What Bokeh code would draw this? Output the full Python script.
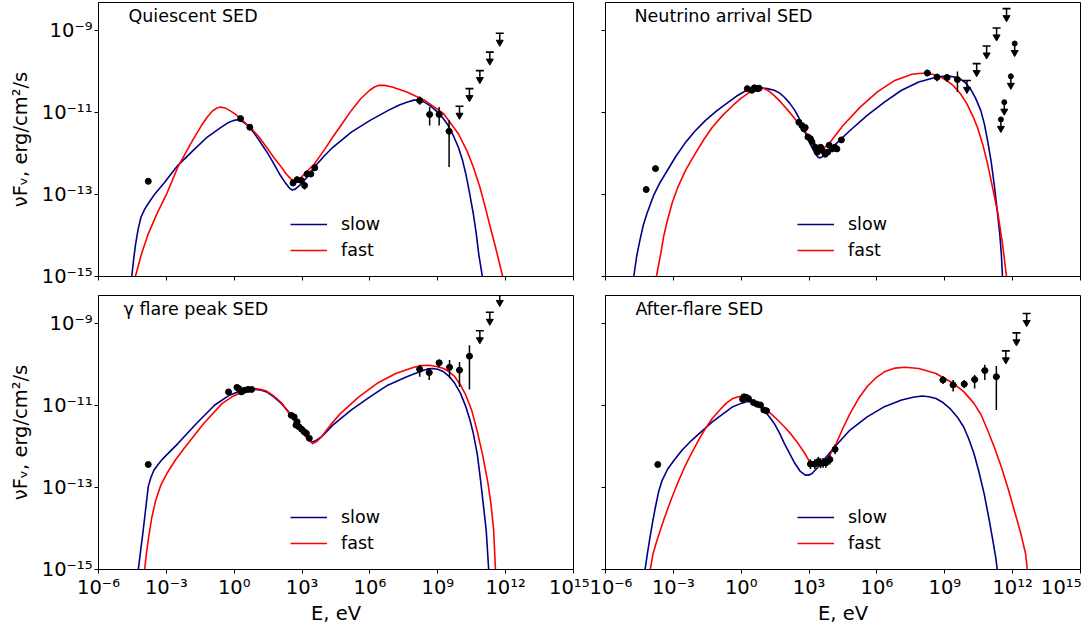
import numpy as np
from bokeh.plotting import figure
from bokeh.models import Range1d, FixedTicker, CustomJSTickFormatter, Label
from bokeh.layouts import column, row
from bokeh.embed import file_html
from bokeh.resources import INLINE

# ---------------- tick labels ----------------
x_tick_exp = [-6, -3, 0, 3, 6, 9, 12, 15]
x_tick_labels = ["10⁻⁶", "10⁻³", "10⁰", "10³", "10⁶", "10⁹", "10¹²", "10¹⁵"]
y_tick_exp = [-15, -13, -11, -9]
y_tick_labels = ["10⁻¹⁵", "10⁻¹³", "10⁻¹¹", "10⁻⁹"]

panel_titles = ["Quiescent SED", "Neutrino arrival SED", "γ flare peak SED", "After-flare SED"]
legend_labels = ["slow", "fast"]

# ---------------- data (log10 E [eV], log10 nuFnu [erg/cm2/s]) ----------------
# Quiescent
q_slow_E = [-4.53, -4.45, -4.37, -4.25, -4.12, -3.95, -3.80, -3.50, -3.10, -2.49, -1.80, -1.19, -0.60, -0.30, -0.05, 0.12, 0.35, 0.61, 0.85, 1.10, 1.45, 1.75, 2.00, 2.24, 2.45, 2.57, 2.70, 2.89, 3.05, 3.22, 3.55, 4.00, 4.36, 5.18, 5.99, 6.81, 7.30, 7.63, 7.95, 8.20, 8.44, 8.70, 8.93, 9.20, 9.42, 9.70, 9.91, 10.10, 10.24, 10.40, 10.57, 10.70, 10.81, 10.97]
q_slow_F = [-15.0, -14.60, -14.25, -13.85, -13.55, -13.35, -13.22, -12.98, -12.72, -12.29, -11.92, -11.60, -11.37, -11.26, -11.20, -11.18, -11.22, -11.32, -11.48, -11.68, -11.97, -12.25, -12.50, -12.70, -12.85, -12.89, -12.87, -12.78, -12.68, -12.58, -12.33, -12.05, -11.85, -11.48, -11.20, -10.95, -10.82, -10.75, -10.70, -10.70, -10.76, -10.85, -10.96, -11.12, -11.28, -11.58, -11.85, -12.18, -12.50, -12.95, -13.47, -13.95, -14.45, -15.0]
q_fast_E = [-4.37, -4.10, -3.80, -3.40, -2.98, -2.49, -1.84, -1.45, -1.19, -0.95, -0.75, -0.61, -0.40, -0.21, 0.05, 0.28, 0.77, 1.10, 1.43, 1.75, 2.08, 2.30, 2.50, 2.73, 2.90, 3.10, 3.55, 4.00, 4.36, 4.80, 5.18, 5.60, 5.99, 6.20, 6.40, 6.65, 6.98, 7.63, 8.44, 9.26, 9.91, 10.30, 10.57, 10.85, 11.06, 11.30, 11.55, 11.87]
q_fast_F = [-15.0, -14.45, -13.96, -13.45, -12.98, -12.33, -11.68, -11.32, -11.11, -10.96, -10.89, -10.87, -10.89, -10.95, -11.04, -11.15, -11.40, -11.60, -11.85, -12.10, -12.33, -12.50, -12.62, -12.68, -12.62, -12.50, -12.25, -11.90, -11.60, -11.25, -10.95, -10.66, -10.46, -10.38, -10.34, -10.34, -10.38, -10.50, -10.71, -11.03, -11.52, -11.95, -12.33, -12.80, -13.23, -13.75, -14.28, -15.0]
q_pt_E = [-3.80, 0.28, 0.69, 2.60, 2.78, 2.97, 3.11, 3.22, 3.39, 3.56, 8.20, 8.64, 9.06, 9.50]
q_pt_F = [-12.68, -11.15, -11.36, -12.72, -12.64, -12.66, -12.78, -12.50, -12.50, -12.35, -10.71, -11.05, -11.05, -11.46]
q_pt_lo = [0, 0, 0, 0.08, 0.08, 0.08, 0.10, 0.08, 0.08, 0.08, 0.10, 0.27, 0.27, 0.87]
q_pt_hi = [0, 0, 0, 0.08, 0.08, 0.08, 0.08, 0.08, 0.08, 0.08, 0.10, 0.18, 0.18, 0.27]
q_pt_xe = [0, 0, 0, 0.07, 0.07, 0.07, 0.07, 0.07, 0.07, 0.07, 0.15, 0.15, 0.15, 0.15]
q_ul_E = [9.96, 10.40, 10.86, 11.30, 11.74]
q_ul_F = [-10.85, -10.42, -9.98, -9.53, -9.07]

# Neutrino arrival
n_slow_E = [-4.75, -4.62, -4.48, -4.33, -4.17, -3.87, -3.60, -3.26, -2.90, -2.50, -2.05, -1.59, -1.10, -0.67, -0.20, 0.24, 0.55, 0.85, 1.15, 1.46, 1.70, 1.91, 2.15, 2.37, 2.55, 2.68, 2.83, 2.98, 3.13, 3.28, 3.38, 3.47, 3.58, 3.74, 3.95, 4.20, 4.81, 5.57, 6.33, 7.09, 7.85, 8.61, 8.95, 9.22, 9.45, 9.68, 9.90, 10.13, 10.35, 10.59, 10.75, 10.89, 11.05, 11.20, 11.32, 11.43, 11.50, 11.55]
n_slow_F = [-15.0, -14.50, -14.12, -13.75, -13.47, -13.02, -12.72, -12.41, -12.08, -11.76, -11.46, -11.20, -10.97, -10.79, -10.60, -10.46, -10.41, -10.40, -10.42, -10.46, -10.53, -10.63, -10.78, -10.95, -11.13, -11.32, -11.50, -11.68, -11.86, -12.01, -12.08, -12.11, -12.08, -12.01, -11.89, -11.76, -11.44, -11.07, -10.75, -10.46, -10.26, -10.14, -10.12, -10.12, -10.14, -10.18, -10.27, -10.42, -10.64, -10.95, -11.28, -11.68, -12.20, -12.82, -13.40, -13.96, -14.45, -15.0]
n_fast_E = [-3.75, -3.56, -3.42, -3.26, -3.05, -2.80, -2.45, -2.04, -1.65, -1.28, -0.80, -0.37, 0.00, 0.39, 0.65, 0.93, 1.20, 1.46, 1.75, 2.07, 2.40, 2.68, 2.92, 3.13, 3.35, 3.51, 3.68, 3.89, 4.15, 4.50, 5.26, 6.02, 6.79, 7.55, 7.85, 8.16, 8.45, 8.76, 9.05, 9.37, 9.70, 9.98, 10.25, 10.44, 10.68, 10.89, 11.12, 11.35, 11.55, 11.73]
n_fast_F = [-15.0, -14.45, -14.00, -13.63, -13.20, -12.82, -12.40, -12.01, -11.66, -11.36, -11.06, -10.83, -10.65, -10.50, -10.43, -10.40, -10.47, -10.59, -10.75, -10.95, -11.17, -11.36, -11.53, -11.68, -11.83, -11.89, -11.86, -11.76, -11.57, -11.32, -10.87, -10.50, -10.22, -10.07, -10.05, -10.04, -10.07, -10.12, -10.21, -10.34, -10.55, -10.79, -11.10, -11.36, -11.78, -12.25, -12.85, -13.47, -14.20, -15.0]
n_pt_E = [-4.20, -3.79, 0.27, 0.47, 0.58, 0.70, 0.79, 2.55, 2.68, 2.77, 2.83, 2.95, 3.06, 3.13, 3.28, 3.36, 3.51, 3.59, 3.71, 3.82, 3.89, 4.02, 4.14, 4.23, 4.43, 8.23, 8.66, 9.10, 9.56]
n_pt_F = [-12.88, -12.37, -10.42, -10.46, -10.40, -10.42, -10.41, -11.24, -11.32, -11.40, -11.37, -11.60, -11.64, -11.72, -11.85, -11.97, -11.85, -11.93, -12.02, -11.97, -11.80, -11.89, -11.85, -11.89, -11.67, -10.04, -10.14, -10.15, -10.20]
n_pt_lo = [0, 0, 0.03, 0.03, 0.03, 0.03, 0.03, 0.06, 0.06, 0.06, 0.06, 0.06, 0.06, 0.06, 0.06, 0.06, 0.06, 0.06, 0.06, 0.06, 0.06, 0.06, 0.06, 0.06, 0.06, 0.08, 0.10, 0.10, 0.30]
n_pt_hi = [0, 0, 0.03, 0.03, 0.03, 0.03, 0.03, 0.06, 0.06, 0.06, 0.06, 0.06, 0.06, 0.06, 0.06, 0.06, 0.06, 0.06, 0.06, 0.06, 0.06, 0.06, 0.06, 0.06, 0.06, 0.08, 0.08, 0.08, 0.20]
n_pt_xe = [0, 0, 0, 0, 0, 0, 0, 0.05, 0.05, 0.05, 0.05, 0.05, 0.05, 0.05, 0.05, 0.05, 0.05, 0.05, 0.05, 0.05, 0.05, 0.05, 0.05, 0.05, 0.05, 0.15, 0.15, 0.15, 0.15]
n_ul_E = [9.98, 10.41, 10.85, 11.29, 11.73]
n_ul_F = [-10.22, -9.81, -9.38, -8.94, -8.47]
n_ar_E = [11.48, 11.63, 11.92, 12.09]
n_ar_F = [-11.17, -10.75, -10.12, -9.32]

# gamma flare peak
g_slow_E = [-4.24, -4.14, -4.04, -3.92, -3.80, -3.68, -3.55, -3.35, -3.14, -2.49, -1.67, -0.86, -0.21, 0.15, 0.45, 0.70, 0.94, 1.20, 1.43, 1.75, 2.08, 2.35, 2.57, 2.82, 3.06, 3.25, 3.43, 3.60, 3.87, 4.36, 5.18, 6.00, 6.81, 7.63, 8.28, 8.55, 8.77, 9.00, 9.26, 9.50, 9.75, 10.00, 10.24, 10.42, 10.57, 10.75, 10.89, 11.02, 11.14, 11.25]
g_slow_F = [-15.0, -14.55, -14.12, -13.55, -12.98, -12.75, -12.58, -12.43, -12.29, -11.93, -11.44, -10.99, -10.75, -10.67, -10.63, -10.61, -10.61, -10.63, -10.67, -10.79, -10.95, -11.12, -11.28, -11.46, -11.64, -11.80, -11.89, -11.86, -11.76, -11.48, -11.11, -10.79, -10.50, -10.30, -10.16, -10.11, -10.10, -10.12, -10.18, -10.29, -10.46, -10.70, -11.03, -11.35, -11.68, -12.20, -12.82, -13.45, -14.04, -15.0]
g_fast_E = [-3.96, -3.88, -3.80, -3.65, -3.47, -3.25, -2.98, -2.60, -2.16, -1.35, -0.53, -0.10, 0.28, 0.60, 0.94, 1.20, 1.43, 1.75, 2.08, 2.40, 2.73, 3.00, 3.22, 3.47, 3.65, 3.87, 4.25, 4.69, 5.51, 6.32, 7.14, 7.95, 8.30, 8.61, 8.95, 9.26, 9.50, 9.75, 10.00, 10.24, 10.50, 10.73, 10.98, 11.22, 11.35, 11.47, 11.55]
g_fast_F = [-15.0, -14.60, -14.28, -13.75, -13.31, -12.95, -12.66, -12.33, -12.01, -11.44, -10.95, -10.79, -10.69, -10.62, -10.59, -10.61, -10.65, -10.77, -10.93, -11.17, -11.44, -11.66, -11.80, -11.93, -11.88, -11.76, -11.48, -11.20, -10.79, -10.46, -10.22, -10.07, -10.03, -10.02, -10.05, -10.10, -10.18, -10.30, -10.50, -10.75, -11.12, -11.60, -12.20, -12.90, -13.40, -14.04, -15.0]
g_pt_E = [-3.80, -0.25, 0.12, 0.20, 0.32, 0.45, 0.61, 0.77, 2.52, 2.65, 2.73, 2.78, 2.86, 2.98, 3.09, 3.19, 3.32, 8.20, 8.62, 9.06, 9.52, 9.96, 10.40]
g_pt_F = [-12.44, -10.67, -10.56, -10.59, -10.67, -10.63, -10.61, -10.61, -11.24, -11.28, -11.48, -11.40, -11.52, -11.58, -11.64, -11.68, -11.80, -10.12, -10.20, -9.96, -10.07, -10.14, -9.80]
g_pt_lo = [0, 0.04, 0.04, 0.04, 0.04, 0.04, 0.04, 0.04, 0.05, 0.05, 0.05, 0.05, 0.05, 0.05, 0.05, 0.05, 0.05, 0.18, 0.18, 0.11, 0.27, 0.41, 0.81]
g_pt_hi = [0, 0.04, 0.04, 0.04, 0.04, 0.04, 0.04, 0.04, 0.05, 0.05, 0.05, 0.05, 0.05, 0.05, 0.05, 0.05, 0.05, 0.11, 0.11, 0.07, 0.18, 0.20, 0.27]
g_pt_xe = [0, 0, 0, 0, 0, 0, 0, 0, 0.04, 0.04, 0.04, 0.04, 0.04, 0.04, 0.04, 0.04, 0.04, 0.15, 0.15, 0.15, 0.15, 0.15, 0.15]
g_ul_E = [10.86, 11.30, 11.74]
g_ul_F = [-9.18, -8.73, -8.27]

# After-flare
a_slow_E = [-4.25, -4.15, -4.05, -3.92, -3.79, -3.65, -3.49, -3.25, -2.96, -2.60, -2.19, -1.28, -0.37, 0.00, 0.24, 0.47, 0.75, 1.00, 1.25, 1.46, 1.70, 1.91, 2.15, 2.37, 2.60, 2.83, 2.98, 3.13, 3.35, 3.59, 4.20, 4.81, 5.57, 6.33, 7.09, 7.60, 8.00, 8.30, 8.61, 8.92, 9.22, 9.55, 9.83, 10.05, 10.29, 10.50, 10.74, 10.95, 11.12, 11.25, 11.32]
a_slow_F = [-15.0, -14.62, -14.28, -13.85, -13.47, -13.10, -12.82, -12.55, -12.33, -12.08, -11.85, -11.40, -11.03, -10.95, -10.91, -10.91, -10.98, -11.11, -11.28, -11.44, -11.68, -11.93, -12.18, -12.41, -12.60, -12.70, -12.70, -12.66, -12.53, -12.37, -11.97, -11.60, -11.28, -11.03, -10.87, -10.80, -10.77, -10.79, -10.83, -10.93, -11.07, -11.28, -11.52, -11.80, -12.17, -12.60, -13.15, -13.75, -14.28, -14.70, -15.0]
a_fast_E = [-4.02, -3.90, -3.72, -3.42, -3.11, -2.80, -2.50, -2.20, -1.89, -1.58, -1.28, -0.95, -0.67, -0.40, -0.14, 0.05, 0.24, 0.45, 0.70, 1.00, 1.31, 1.60, 1.91, 2.20, 2.52, 2.80, 3.00, 3.13, 3.30, 3.45, 3.60, 3.74, 3.95, 4.20, 4.50, 4.81, 5.20, 5.57, 5.95, 6.33, 6.80, 7.24, 7.85, 8.61, 9.37, 9.85, 10.29, 10.60, 10.89, 11.20, 11.50, 11.80, 12.11, 12.35, 12.57, 12.65]
a_fast_F = [-15.0, -14.62, -14.28, -13.78, -13.31, -12.88, -12.50, -12.17, -11.85, -11.56, -11.32, -11.11, -10.95, -10.84, -10.79, -10.78, -10.80, -10.86, -10.95, -11.07, -11.20, -11.35, -11.52, -11.70, -11.93, -12.16, -12.35, -12.46, -12.49, -12.48, -12.44, -12.37, -12.18, -11.93, -11.55, -11.20, -10.82, -10.54, -10.33, -10.18, -10.09, -10.07, -10.10, -10.22, -10.46, -10.67, -10.95, -11.22, -11.60, -12.03, -12.50, -13.03, -13.63, -14.10, -14.61, -15.0]
a_pt_E = [-3.69, 0.06, 0.12, 0.21, 0.32, 0.54, 0.70, 0.85, 1.00, 1.12, 3.06, 3.25, 3.41, 3.51, 3.62, 3.74, 3.92, 4.15, 8.92, 9.37, 9.86, 10.32, 10.77, 11.28]
a_pt_F = [-12.44, -10.85, -10.79, -10.80, -10.83, -10.93, -10.97, -10.99, -11.11, -11.13, -12.43, -12.43, -12.37, -12.41, -12.40, -12.40, -12.32, -12.07, -10.38, -10.50, -10.48, -10.37, -10.15, -10.30]
a_pt_lo = [0, 0.03, 0.03, 0.03, 0.03, 0.03, 0.03, 0.03, 0.03, 0.03, 0.12, 0.12, 0.12, 0.12, 0.12, 0.12, 0.12, 0.12, 0.10, 0.16, 0.10, 0.22, 0.23, 0.81]
a_pt_hi = [0, 0.03, 0.03, 0.03, 0.03, 0.03, 0.03, 0.03, 0.03, 0.03, 0.12, 0.12, 0.12, 0.12, 0.12, 0.12, 0.12, 0.12, 0.10, 0.12, 0.10, 0.11, 0.14, 0.26]
a_pt_xe = [0, 0, 0, 0, 0, 0, 0, 0, 0, 0, 0.08, 0.08, 0.08, 0.08, 0.08, 0.08, 0.08, 0.08, 0.15, 0.15, 0.15, 0.15, 0.15, 0.15]
a_ul_E = [11.70, 12.17, 12.62]
a_ul_F = [-9.67, -9.23, -8.76]

# ---------------- style ----------------
FW, FH = 475, 274
X_LO, X_HI = 1e-6, 1e15
Y_LOG_LO, Y_LOG_HI = -15.0, -8.32
FONT = "DejaVu Sans"
BLUE = "#00008b"
RED = "#ff0000"
PX_PER_DEC_X = FW / 21.0
PX_PER_DEC_Y = FH / (Y_LOG_HI - Y_LOG_LO)


def tick_formatter(exps, labels):
    return CustomJSTickFormatter(args=dict(exps=exps, labels=labels), code="""
        const e = Math.log10(tick);
        for (let i = 0; i < exps.length; i++) {
            if (Math.abs(e - exps[i]) < 0.01) { return labels[i]; }
        }
        return "";
    """)


def pw(a):
    return list(10.0 ** np.asarray(a, dtype=float))


def panel(title, title_dx, slow, fast, pts, uls, arrows, left, bottom):
    p = figure(x_axis_type="log", y_axis_type="log",
               x_range=Range1d(X_LO, X_HI), y_range=Range1d(10 ** Y_LOG_LO, 10 ** Y_LOG_HI),
               frame_width=FW, frame_height=FH, output_backend="svg", toolbar_location=None,
               min_border_left=98 if left else 16, min_border_right=16 if left else 1,
               min_border_top=2, min_border_bottom=50 if bottom else 17,
               background_fill_color="white", border_fill_color="white")
    p.outline_line_color = "black"
    p.outline_line_width = 1
    p.xgrid.visible = False
    p.ygrid.visible = False
    for ax in (p.xaxis[0], p.yaxis[0]):
        ax.axis_line_color = "black"
        ax.axis_line_width = 1
        ax.major_tick_line_color = "black"
        ax.major_tick_out = 4
        ax.major_tick_in = 0
        ax.minor_tick_line_color = None
        ax.major_label_text_font = FONT
        ax.major_label_text_font_size = "19.5px"
        ax.major_label_text_color = "black"
        ax.major_label_standoff = 2
        ax.axis_label_text_font = FONT
        ax.axis_label_text_font_size = "19.5px"
        ax.axis_label_text_font_style = "normal"
        ax.axis_label_text_color = "black"
    p.xaxis.ticker = FixedTicker(ticks=[10.0 ** e for e in x_tick_exp], minor_ticks=[])
    p.yaxis.ticker = FixedTicker(ticks=[10.0 ** e for e in y_tick_exp], minor_ticks=[])
    p.xaxis.formatter = tick_formatter(x_tick_exp, x_tick_labels if bottom else ["" for _ in x_tick_labels])
    p.yaxis.formatter = tick_formatter(y_tick_exp, y_tick_labels if left else ["" for _ in y_tick_labels])
    if bottom:
        p.xaxis.axis_label = "E, eV"
        p.xaxis.axis_label_standoff = 0
    if left:
        p.yaxis.axis_label = "νFᵥ, erg/cm²/s"
        p.yaxis.axis_label_standoff = 7

    # model curves
    p.line(pw(slow[0]), pw(slow[1]), line_color=BLUE, line_width=1.6, line_join="round",
           legend_label=legend_labels[0])
    p.line(pw(fast[0]), pw(fast[1]), line_color=RED, line_width=1.6, line_join="round",
           legend_label=legend_labels[1])

    # data points with error bars
    E = np.asarray(pts[0]); F = np.asarray(pts[1])
    lo = np.asarray(pts[2]); hi = np.asarray(pts[3]); xe = np.asarray(pts[4])
    p.segment(x0=pw(E), y0=pw(F - lo), x1=pw(E), y1=pw(F + hi), line_color="black", line_width=1.5)
    p.segment(x0=pw(E - xe), y0=pw(F), x1=pw(E + xe), y1=pw(F), line_color="black", line_width=1.5)
    p.scatter(pw(E), pw(F), size=6, marker="circle", fill_color="black", line_color="black")

    # upper limits: cap + arrow
    arrow_dec = 9.0 / PX_PER_DEC_Y
    UE = np.asarray(uls[0]); UF = np.asarray(uls[1])
    p.segment(x0=pw(UE), y0=pw(UF), x1=pw(UE), y1=pw(UF - arrow_dec), line_color="black", line_width=1.5)
    p.scatter(pw(UE), pw(UF), marker="dash", size=8, line_color="black", line_width=1.6)
    p.scatter(pw(UE), pw(UF - arrow_dec), marker="inverted_triangle", size=7, fill_color="black", line_color="black")
    if arrows is not None:
        AE = np.asarray(arrows[0]); AF = np.asarray(arrows[1])
        p.segment(x0=pw(AE), y0=pw(AF), x1=pw(AE), y1=pw(AF - arrow_dec), line_color="black", line_width=1.5)
        p.scatter(pw(AE), pw(AF), marker="circle", size=5, fill_color="black", line_color="black")
        p.scatter(pw(AE), pw(AF - arrow_dec), marker="inverted_triangle", size=7, fill_color="black", line_color="black")

    # panel title
    tx = 10 ** (np.log10(X_LO) + title_dx / PX_PER_DEC_X)
    ty = 10 ** (Y_LOG_HI - 13.0 / PX_PER_DEC_Y)
    p.add_layout(Label(x=tx, y=ty, text=title, text_font=FONT, text_font_size="17.5px",
                       text_color="black", text_baseline="alphabetic", text_align="left"))

    # legend
    lg = p.legend[0]
    lg.location = (192, 16)
    lg.border_line_alpha = 0
    lg.background_fill_alpha = 0
    lg.padding = 0
    lg.margin = 0
    lg.spacing = 6
    lg.glyph_width = 37
    lg.glyph_height = 20
    lg.label_height = 20
    lg.label_standoff = 14
    lg.label_text_font = FONT
    lg.label_text_font_size = "17.5px"
    lg.label_text_color = "black"
    return p


p1 = panel(panel_titles[0], 30, (q_slow_E, q_slow_F), (q_fast_E, q_fast_F),
           (q_pt_E, q_pt_F, q_pt_lo, q_pt_hi, q_pt_xe), (q_ul_E, q_ul_F), None, True, False)
p2 = panel(panel_titles[1], 29, (n_slow_E, n_slow_F), (n_fast_E, n_fast_F),
           (n_pt_E, n_pt_F, n_pt_lo, n_pt_hi, n_pt_xe), (n_ul_E, n_ul_F), (n_ar_E, n_ar_F), False, False)
p3 = panel(panel_titles[2], 25, (g_slow_E, g_slow_F), (g_fast_E, g_fast_F),
           (g_pt_E, g_pt_F, g_pt_lo, g_pt_hi, g_pt_xe), (g_ul_E, g_ul_F), None, True, True)
p4 = panel(panel_titles[3], 30, (a_slow_E, a_slow_F), (a_fast_E, a_fast_F),
           (a_pt_E, a_pt_F, a_pt_lo, a_pt_hi, a_pt_xe), (a_ul_E, a_ul_F), None, False, True)

layout = column(row(p1, p2, spacing=0), row(p3, p4, spacing=0), spacing=0)
open("out.html", "w").write(file_html(layout, INLINE))
